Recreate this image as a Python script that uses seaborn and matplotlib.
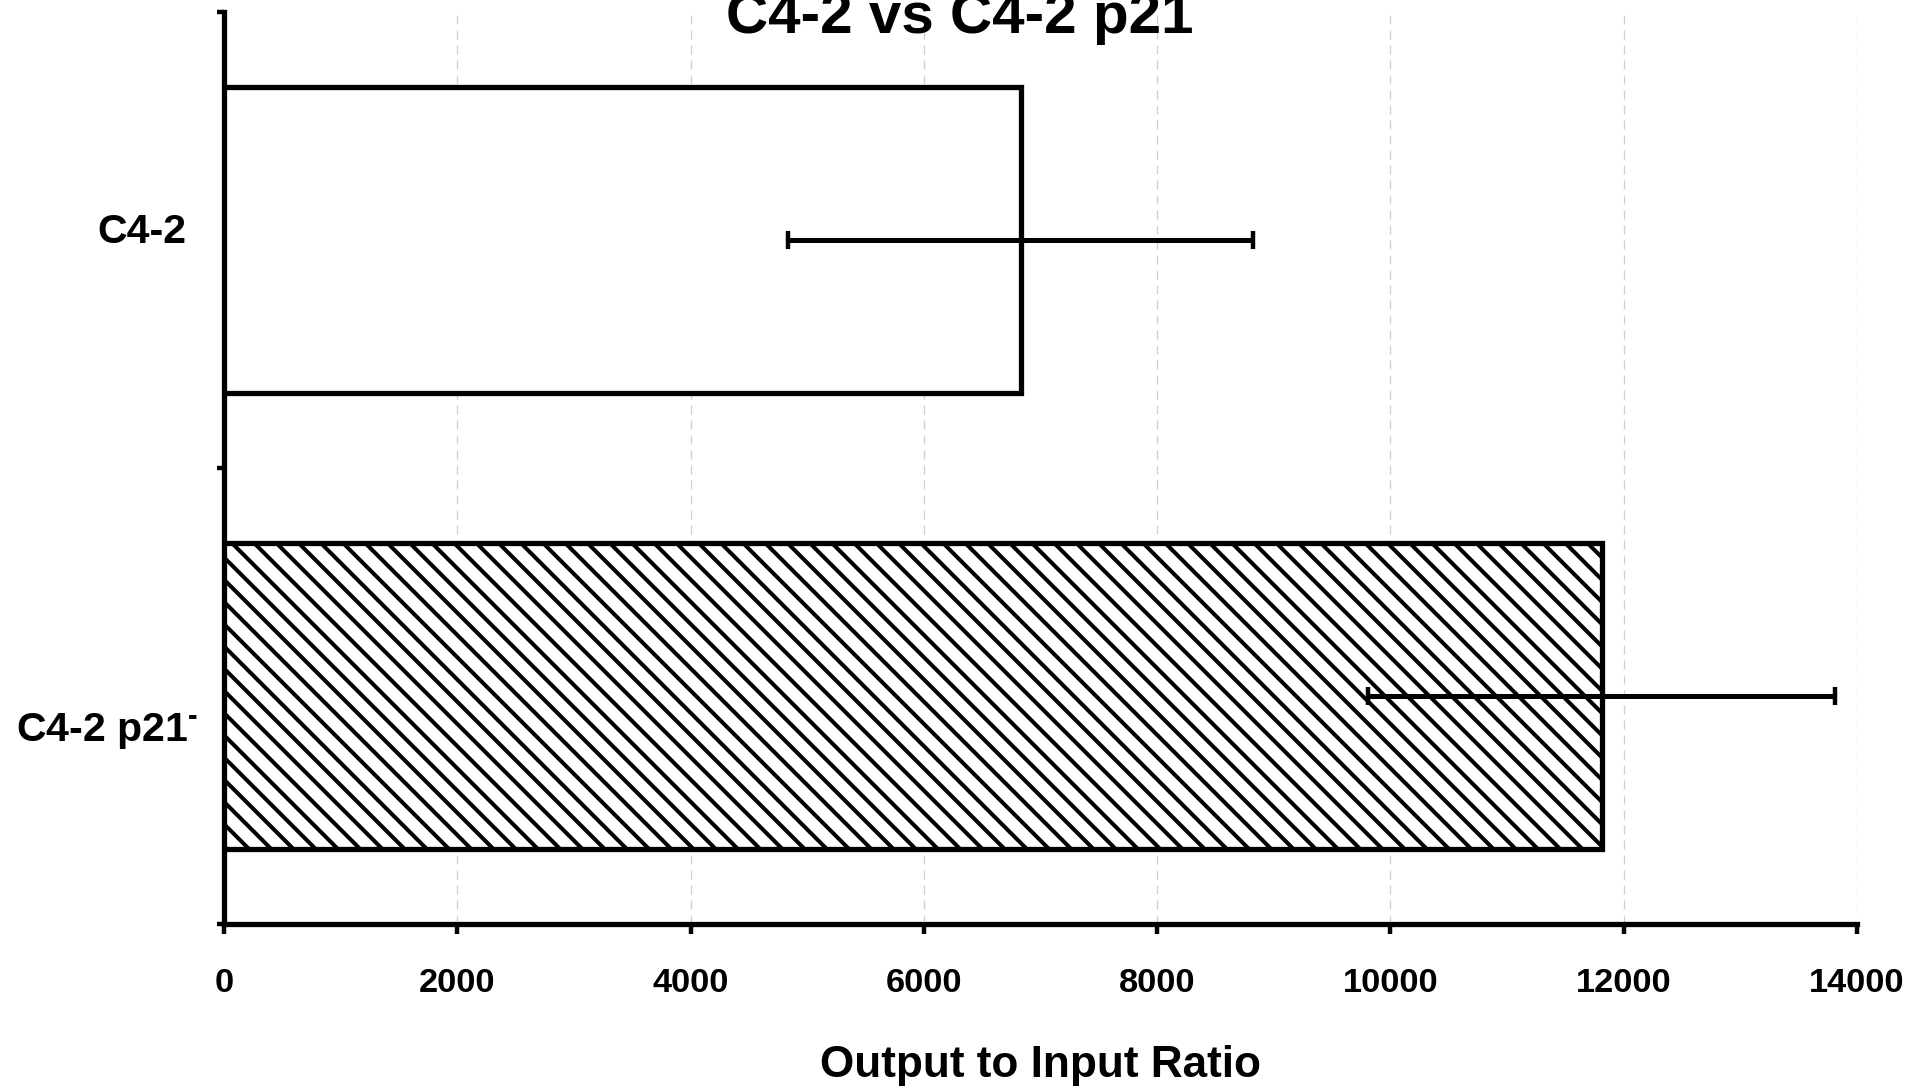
import matplotlib
matplotlib.use("Agg")
import matplotlib.pyplot as plt
import matplotlib.transforms as mtransforms
import seaborn as sns
import pandas as pd
import numpy as np

# ---- data ----
categories = ["C4-2", "C4-2 p21$^{\\text{-}}$"]
ratios = [6830, 11810]
errors = [1995, 2000]
hatches = ["", "\\\\\\"]
xticks = [0, 2000, 4000, 6000, 8000, 10000, 12000, 14000]

sns.set_theme(style="white")
plt.rcParams["font.family"] = ["Liberation Sans", "DejaVu Sans"]
plt.rcParams["font.weight"] = "bold"
plt.rcParams["mathtext.fontset"] = "custom"
plt.rcParams["mathtext.rm"] = "Liberation Sans:bold"
plt.rcParams["mathtext.default"] = "rm"
plt.rcParams["hatch.linewidth"] = 1.45
plt.rcParams["lines.scale_dashes"] = False

DPI = 200
fig = plt.figure(figsize=(1931 / DPI, 1090 / DPI), dpi=DPI)
ax = fig.add_axes([0.1160, 0.1523, 0.8457, 0.8367])

df = pd.DataFrame({"cat": categories, "ratio": ratios})
sns.barplot(data=df, x="ratio", y="cat", orient="h", ax=ax, color="white",
            edgecolor="black", linewidth=1.9, width=0.67, errorbar=None,
            zorder=3)
for patch, h in zip(ax.patches, hatches):
    patch.set_facecolor("white")
    patch.set_edgecolor("black")
    if h:
        patch.set_hatch(h)

pos = np.arange(len(categories))
ax.errorbar(ratios, pos, xerr=errors, fmt="none", ecolor="black",
            elinewidth=1.8, capsize=3.4, capthick=1.6, zorder=4)

ax.set_xlim(xticks[0], xticks[-1])
ax.set_ylim(len(categories) - 0.5, -0.5)
ax.set_xticks(xticks)
ax.set_xticklabels([str(t) for t in xticks])
ax.set_yticks(pos)
ax.set_yticklabels(categories)
ax.set_yticks(np.arange(len(categories) + 1) - 0.5, minor=True)

ax.grid(axis="x", color="#cfcfcf", linestyle=(0, (3.2, 2.2)), linewidth=0.45,
        zorder=0)
ax.grid(axis="y", visible=False)
ax.set_axisbelow(True)

for s in ["top", "right"]:
    ax.spines[s].set_visible(False)
for s in ["left", "bottom"]:
    ax.spines[s].set_linewidth(1.9)
    ax.spines[s].set_color("black")

ax.tick_params(axis="x", which="major", direction="out", length=3.6,
               width=1.6, color="black", labelsize=12.4, pad=12.2,
               bottom=True)
ax.tick_params(axis="y", which="major", length=0, labelsize=14.8, pad=13.5)
ax.tick_params(axis="y", which="minor", direction="out", length=2.5,
               width=1.6, color="black", left=True)
for lab in ax.get_xticklabels() + ax.get_yticklabels():
    lab.set_fontweight("bold")
    lab.set_color("black")

# small offsets of the category labels, as in the reference
offsets = [(0, 4.3), (4.3, -10.8)]
for lab, (dx, dy) in zip(ax.get_yticklabels(), offsets):
    lab.set_transform(lab.get_transform() +
                      mtransforms.ScaledTranslation(dx / 72, dy / 72,
                                                    fig.dpi_scale_trans))

ax.set_ylabel("")
ax.set_xlabel("Output to Input Ratio", fontsize=15.9, fontweight="bold",
              color="black", labelpad=16.5)

fig.text(0.497, 1 - 33 / 1090, "C4-2 vs C4-2 p21", ha="center",
         va="baseline", fontsize=21, fontweight="bold", color="black")

fig.savefig("out.png", dpi=DPI, facecolor="white")
